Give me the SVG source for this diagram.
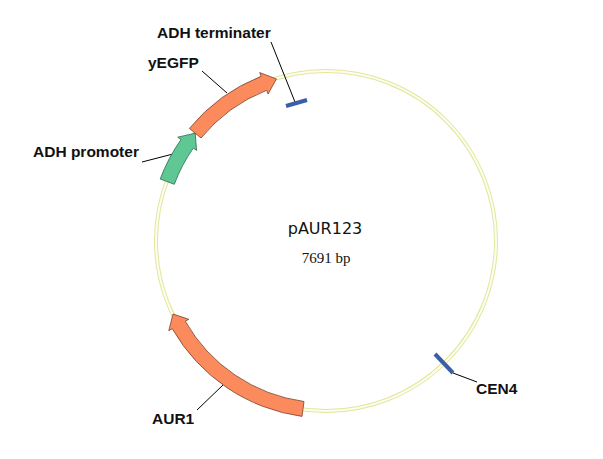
<svg xmlns="http://www.w3.org/2000/svg" width="603" height="459" viewBox="0 0 603 459">
<style>
.lbl{font-family:"Liberation Sans",Arial,sans-serif;font-weight:bold;font-size:15.5px;fill:#111}
.lead{stroke:#000;stroke-width:1;fill:none}
.orange{fill:#fb8a5c;stroke:#7a4028;stroke-width:0.8}
.green{fill:#5ec794;stroke:#2c6a4c;stroke-width:0.8}
.site{stroke:#3a5ea8;stroke-width:4;stroke-linecap:butt}
</style>
<rect width="603" height="459" fill="#fff"/>
<g id="backbone">
<circle cx="326" cy="241" r="170" fill="none" stroke="#e1e79a" stroke-width="4"/>
<circle cx="326" cy="241" r="170" fill="none" stroke="#fdfdf2" stroke-width="2"/>
</g>
<g id="connectors">
<line class="lead" x1="271" y1="42" x2="295" y2="102"/>
<line class="lead" x1="202" y1="71" x2="227" y2="93"/>
<line class="lead" x1="142" y1="162" x2="173" y2="154"/>
<line class="lead" x1="197" y1="410" x2="223" y2="385"/>
<line class="lead" x1="453" y1="373" x2="477" y2="382"/>
</g>
<g id="adh-promoter">
<path class="green" d="M160.2,179.0 A177,177 0 0 1 181.0,139.5 L177.7,137.2 L195.2,133.2 L196.6,150.4 L193.3,148.1 A162,162 0 0 0 174.3,184.3 Z"/>
<text class="lbl" x="33" y="157">ADH promoter</text>
</g>
<g id="yegfp">
<path class="orange" d="M189.4,128.4 A177,177 0 0 1 261.1,76.3 L259.7,72.6 L276.4,78.9 L268.1,94.0 L266.6,90.3 A162,162 0 0 0 201.0,138.0 Z"/>
<text class="lbl" x="148" y="68">yEGFP</text>
</g>
<g id="adh-terminater">
<line class="site" x1="286" y1="106" x2="307" y2="100"/>
<text class="lbl" x="157" y="38">ADH terminater</text>
</g>
<g id="aur1">
<path class="orange" d="M302.0,416.4 A177,177 0 0 1 172.3,328.7 L168.8,330.7 L173.0,314.0 L188.8,319.3 L185.3,321.3 A162,162 0 0 0 304.0,401.5 Z"/>
<text class="lbl" x="152" y="424">AUR1</text>
</g>
<g id="cen4">
<line class="site" x1="435" y1="354" x2="453" y2="373"/>
<text class="lbl" x="476" y="394">CEN4</text>
</g>
<g id="title">
<text x="325" y="234" text-anchor="middle" font-family="DejaVu Sans,Verdana,sans-serif" font-size="16" fill="#111">pAUR123</text>
<text x="326" y="263" text-anchor="middle" font-family="Liberation Serif,Times New Roman,serif" font-size="15" fill="#111">7691 bp</text>
</g>
</svg>
